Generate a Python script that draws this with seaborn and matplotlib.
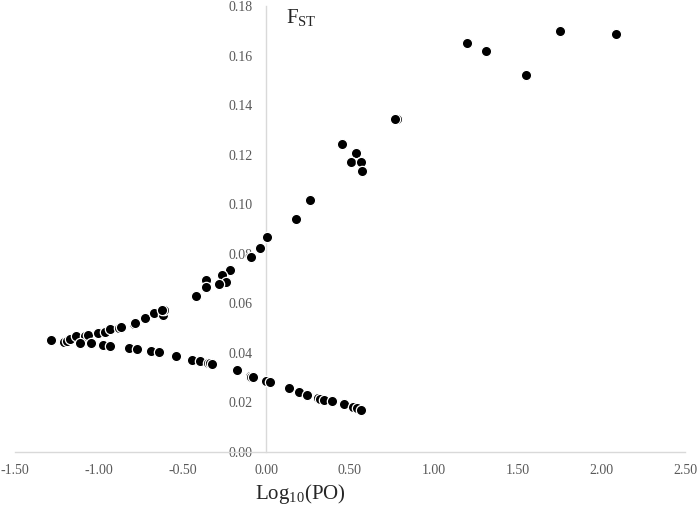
import matplotlib
matplotlib.use("Agg")
import matplotlib.pyplot as plt
import seaborn as sns
import pandas as pd

# Log10(PO) vs FST values
log_po = [
    # upper cluster
    1.198, 1.313, 1.552, 1.753, 2.090,
    0.780, 0.766, 0.454, 0.537, 0.506, 0.567, 0.573, 0.261,
    0.177, 0.002, -0.040, -0.091, -0.219, -0.263, -0.241, -0.282, -0.358, -0.358, -0.418,
    # upper branch
    -1.285, -1.210, -1.190, -1.170, -1.136, -1.080, -1.067, -1.005, -0.961, -0.931, -0.880,
    -0.867, -0.790, -0.782, -0.722, -0.673, -0.617, -0.613, -0.620,
    # lower branch
    -1.110, -1.047, -0.975, -0.931, -0.822, -0.772, -0.688, -0.641, -0.541, -0.446,
    -0.394, -0.345, -0.335, -0.321, -0.175, -0.100, -0.090, -0.079, 0.000, 0.024,
    0.136, 0.197, 0.243, 0.310, 0.320, 0.342, 0.394, 0.466, 0.520, 0.540, 0.565,
]
fst = [
    0.1652, 0.1618, 0.1521, 0.1698, 0.1686,
    0.1345, 0.1343, 0.1244, 0.1208, 0.1170, 0.1171, 0.1135, 0.1018,
    0.0940, 0.0868, 0.0823, 0.0787, 0.0733, 0.0713, 0.0687, 0.0678, 0.0693, 0.0666, 0.0630,
    0.0451, 0.0444, 0.0446, 0.0456, 0.0468, 0.0469, 0.0472, 0.0481, 0.0485, 0.0495, 0.0500,
    0.0503, 0.0518, 0.0521, 0.0541, 0.0560, 0.0553, 0.0573, 0.0575,
    0.0439, 0.0439, 0.0432, 0.0428, 0.0421, 0.0417, 0.0406, 0.0405, 0.0387, 0.0372,
    0.0368, 0.0361, 0.0358, 0.0355, 0.0330, 0.0306, 0.0304, 0.0301, 0.0285, 0.0281,
    0.0258, 0.0241, 0.0230, 0.0217, 0.0215, 0.0211, 0.0207, 0.0192, 0.0180, 0.0176, 0.0171,
]
x_ticks = [-1.5, -1.0, -0.5, 0.0, 0.5, 1.0, 1.5, 2.0, 2.5]
y_ticks = [0.00, 0.02, 0.04, 0.06, 0.08, 0.10, 0.12, 0.14, 0.16, 0.18]

df = pd.DataFrame({"log_po": log_po, "fst": fst})

sns.set_style("white")
plt.rcParams["font.family"] = ["Liberation Serif", "DejaVu Serif"]

fig = plt.figure(figsize=(6.97, 5.08), dpi=100)
ax = fig.add_axes([15 / 697, 1 - 452 / 508, 670 / 697, 446 / 508])

sns.scatterplot(data=df, x="log_po", y="fst", ax=ax, color="black",
                s=55, edgecolor="white", linewidth=0.9, zorder=3)

ax.set_xlim(-1.5, 2.5)
ax.set_ylim(0, 0.18)
ax.set_xticks(x_ticks)
ax.set_yticks(y_ticks)
ax.set_xticklabels([f"{t:.2f}" for t in x_ticks])
ax.set_yticklabels([f"{t:.2f}" for t in y_ticks])

# axes crossing at origin
ax.spines["left"].set_position(("data", 0))
ax.spines["bottom"].set_position(("data", 0))
ax.spines["top"].set_visible(False)
ax.spines["right"].set_visible(False)
for s in ["left", "bottom"]:
    ax.spines[s].set_color("#d9d9d9")
    ax.spines[s].set_linewidth(1.0)
    ax.spines[s].set_zorder(1)

ax.tick_params(axis="y", direction="out", length=4, color="#d9d9d9",
               labelcolor="#595959", labelsize=10, pad=6)
ax.tick_params(axis="x", direction="inout", length=6, color="#d9d9d9",
               labelcolor="#595959", labelsize=10, pad=6)
ax.grid(False)

ax.set_xlabel("")
ax.set_ylabel("")
fig.text(300 / 697, 1 - 494 / 508, r"Log$_{\mathregular{10}}$(PO)", ha="center", va="center",
         fontsize=15, color="#262626")
ax.text(0.12, 0.175, r"F$_{\mathregular{ST}}$", ha="left", va="center",
        fontsize=15, color="#262626")

plt.savefig("out.png", dpi=100)
plt.close()
